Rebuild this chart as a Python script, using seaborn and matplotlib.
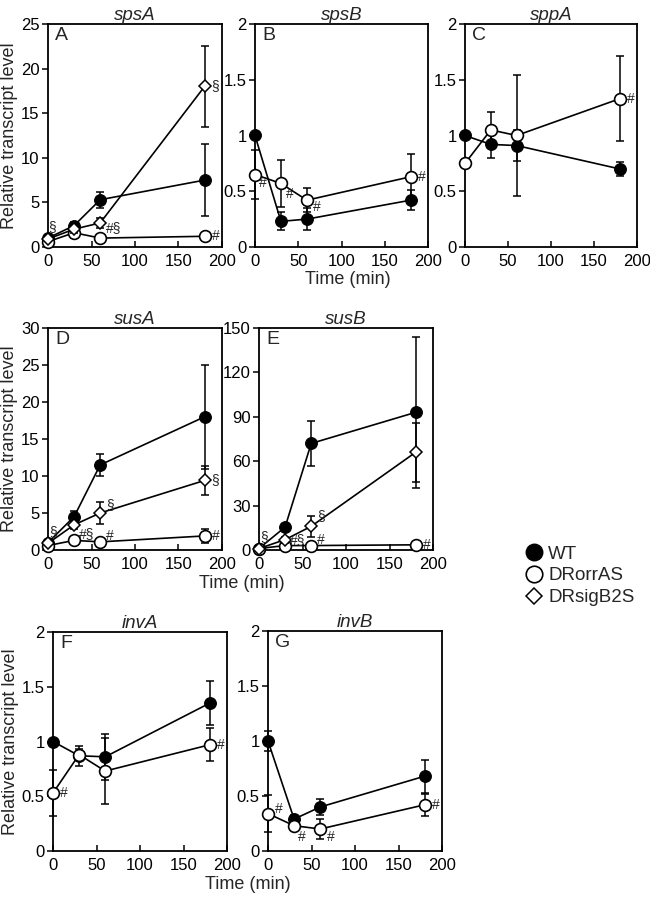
import matplotlib
matplotlib.use("Agg")
import matplotlib.pyplot as plt
from matplotlib.lines import Line2D
import seaborn as sns

# sampling times (min)
times = [0, 30, 60, 180]

# spsA
spsA_wt = [1.0, 2.4, 5.3, 7.5]
spsA_wt_err = [0.2, 0.4, 0.9, 4.0]
spsA_rorr = [0.6, 1.6, 1.0, 1.2]
spsA_rorr_err = [0.1, 0.6, 0.2, 0.2]
spsA_sig = [0.9, 2.0, 2.7, 18.0]
spsA_sig_err = [0.2, 0.4, 0.6, 4.5]

# spsB
spsB_wt = [1.0, 0.23, 0.25, 0.42]
spsB_wt_err = [0.0, 0.08, 0.1, 0.09]
spsB_rorr = [0.65, 0.57, 0.42, 0.63]
spsB_rorr_err = [0.22, 0.21, 0.11, 0.2]

# sppA
sppA_wt = [1.0, 0.92, 0.91, 0.70]
sppA_wt_err = [0.0, 0.12, 0.14, 0.06]
sppA_rorr = [0.75, 1.05, 1.0, 1.33]
sppA_rorr_err = [0.0, 0.16, 0.54, 0.38]

# susA
susA_wt = [1.0, 4.5, 11.5, 18.0]
susA_wt_err = [0.2, 0.8, 1.5, 7.0]
susA_rorr = [0.6, 1.3, 1.1, 1.9]
susA_rorr_err = [0.1, 0.2, 0.2, 1.0]
susA_sig = [0.9, 3.4, 5.0, 9.4]
susA_sig_err = [0.2, 0.5, 1.5, 2.0]

# susB
susB_wt = [1.0, 15.5, 72.0, 93.0]
susB_wt_err = [0.5, 2.0, 15.0, 51.0]
susB_rorr = [1.0, 3.0, 3.0, 3.5]
susB_rorr_err = [0.3, 0.5, 0.5, 0.5]
susB_sig = [1.0, 7.0, 16.0, 66.0]
susB_sig_err = [0.3, 2.0, 7.0, 20.0]

# invA
invA_wt = [1.0, 0.87, 0.86, 1.35]
invA_wt_err = [0.0, 0.09, 0.21, 0.2]
invA_rorr = [0.53, 0.88, 0.73, 0.97]
invA_rorr_err = [0.21, 0.05, 0.3, 0.15]

# invB
invB_wt = [1.0, 0.29, 0.40, 0.68]
invB_wt_err = [0.09, 0.04, 0.07, 0.15]
invB_rorr = [0.34, 0.23, 0.20, 0.42]
invB_rorr_err = [0.17, 0.03, 0.09, 0.1]

W, H = 650, 897


def box(x0, x1, y0, y1):
    # pixel box -> figure fraction
    return [x0 / W, 1 - y1 / H, (x1 - x0) / W, (y1 - y0) / H]


panels = [
    dict(gene="spsA", letter="A", rect=box(48, 222, 24, 247), ymax=25, ystep=5,
         wt=(spsA_wt, spsA_wt_err), rorr=(spsA_rorr, spsA_rorr_err), sig=(spsA_sig, spsA_sig_err),
         notes=[("wt", 0, "§", 0, 11), ("sig", 2, "#§", 6, -5), ("sig", 3, "§", 7, 0), ("rorr", 3, "#", 7, 0)],
         ylabel=True),
    dict(gene="spsB", letter="B", rect=box(255, 428, 24, 247), ymax=2, ystep=0.5,
         wt=(spsB_wt, spsB_wt_err), rorr=(spsB_rorr, spsB_rorr_err), sig=None,
         notes=[("rorr", 0, "#", 4, -8), ("rorr", 1, "#", 5, -11), ("rorr", 2, "#", 6, -7), ("rorr", 3, "#", 7, 0)],
         ylabel=False),
    dict(gene="sppA", letter="C", rect=box(465, 637, 24, 247), ymax=2, ystep=0.5,
         wt=(sppA_wt, sppA_wt_err), rorr=(sppA_rorr, sppA_rorr_err), sig=None,
         notes=[("rorr", 3, "#", 7, 0)],
         ylabel=False),
    dict(gene="susA", letter="D", rect=box(48, 222, 328, 550), ymax=30, ystep=5,
         wt=(susA_wt, susA_wt_err), rorr=(susA_rorr, susA_rorr_err), sig=(susA_sig, susA_sig_err),
         notes=[("wt", 0, "§", 1, 11), ("rorr", 1, "#§", 5, 6), ("sig", 2, "§", 6, 8),
                ("rorr", 2, "#", 6, 6), ("sig", 3, "§", 7, 0), ("rorr", 3, "#", 7, 0)],
         ylabel=True),
    dict(gene="susB", letter="E", rect=box(259, 433, 328, 550), ymax=150, ystep=30,
         wt=(susB_wt, susB_wt_err), rorr=(susB_rorr, susB_rorr_err), sig=(susB_sig, susB_sig_err),
         notes=[("wt", 0, "§", 1, 11), ("rorr", 1, "#§", 5, 6), ("sig", 2, "§", 6, 10),
                ("rorr", 2, "#", 6, 6), ("rorr", 3, "#", 7, 0)],
         ylabel=False),
    dict(gene="invA", letter="F", rect=box(53, 227, 632, 851), ymax=2, ystep=0.5,
         wt=(invA_wt, invA_wt_err), rorr=(invA_rorr, invA_rorr_err), sig=None,
         notes=[("rorr", 0, "#", 7, 0), ("rorr", 3, "#", 7, 0)],
         ylabel=True),
    dict(gene="invB", letter="G", rect=box(268, 442, 631, 851), ymax=2, ystep=0.5,
         wt=(invB_wt, invB_wt_err), rorr=(invB_rorr, invB_rorr_err), sig=None,
         notes=[("rorr", 0, "#", 7, 5), ("rorr", 1, "#", 4, -11), ("rorr", 2, "#", 7, -8), ("rorr", 3, "#", 7, 0)],
         ylabel=False),
]

sns.set_theme(style="ticks")
plt.rcParams["font.family"] = ["Liberation Sans", "DejaVu Sans"]

styles = {
    "wt": dict(marker="o", markersize=8.5, markerfacecolor="black", markeredgecolor="black"),
    "rorr": dict(marker="o", markersize=8.5, markerfacecolor="white", markeredgecolor="black", markeredgewidth=1.2),
    "sig": dict(marker="D", markersize=6, markerfacecolor="white", markeredgecolor="black", markeredgewidth=1.1),
}

fig = plt.figure(figsize=(W / 100, H / 100), dpi=100)

for p in panels:
    ax = fig.add_axes(p["rect"])
    series = [("wt", p["wt"]), ("rorr", p["rorr"])]
    if p["sig"] is not None:
        series.append(("sig", p["sig"]))
    for z, (key, (vals, errs)) in enumerate(series):
        ax.errorbar(times, vals, yerr=errs, fmt="none", ecolor="black", elinewidth=1.1,
                    capsize=3, capthick=1.1, clip_on=False, zorder=2 + z)
        sns.lineplot(x=times, y=vals, ax=ax, color="black", lw=1.2, clip_on=False,
                     zorder=3 + z, **styles[key])
    data = {"wt": p["wt"][0], "rorr": p["rorr"][0]}
    if p["sig"] is not None:
        data["sig"] = p["sig"][0]
    for key, i, txt, dx, dy in p["notes"]:
        ax.annotate(txt, (times[i], data[key][i]), xytext=(dx, dy), textcoords="offset pixels",
                    ha="left", va="center", fontsize=10, zorder=10, annotation_clip=False)

    ax.set_xlim(0, 200)
    ax.set_ylim(0, p["ymax"])
    ax.set_xticks([0, 50, 100, 150, 200])
    yt = []
    v = 0.0
    while v <= p["ymax"] + 1e-9:
        yt.append(v)
        v += p["ystep"]
    ax.set_yticks(yt)
    ax.set_yticklabels([f"{t:g}" for t in yt])
    ax.tick_params(axis="x", direction="in", length=4, width=1.1, labelsize=12, pad=5, colors="black")
    ax.tick_params(axis="y", direction="out", length=4, width=1.1, labelsize=12, pad=2, colors="black")
    for s in ax.spines.values():
        s.set_linewidth(1.3)
        s.set_color("black")
    ax.set_title(p["gene"], style="italic", fontsize=13.5, pad=3)
    ax.text(0.04, 0.985, p["letter"], transform=ax.transAxes, ha="left", va="top", fontsize=14)
    ax.set_xlabel("")
    if p["ylabel"]:
        ax.set_ylabel("Relative transcript level", fontsize=13, labelpad=2)
    else:
        ax.set_ylabel("")

for cx, cy in [(348, 279), (242, 583), (248, 884)]:
    fig.text(cx / W, 1 - cy / H, "Time (min)", ha="center", va="center", fontsize=13)

handles = [
    Line2D([], [], ls="none", **styles["wt"]),
    Line2D([], [], ls="none", **styles["rorr"]),
    Line2D([], [], ls="none", **styles["sig"]),
]
fig.legend(handles, ["WT", "DRorrAS", "DRsigB2S"], loc="upper left",
           bbox_to_anchor=(518 / W, 1 - 538 / H), frameon=False, fontsize=13.5,
           handlelength=0.9, handletextpad=0.3, labelspacing=0.25, markerscale=1.4,
           borderaxespad=0)

fig.savefig("out.png", dpi=100)
